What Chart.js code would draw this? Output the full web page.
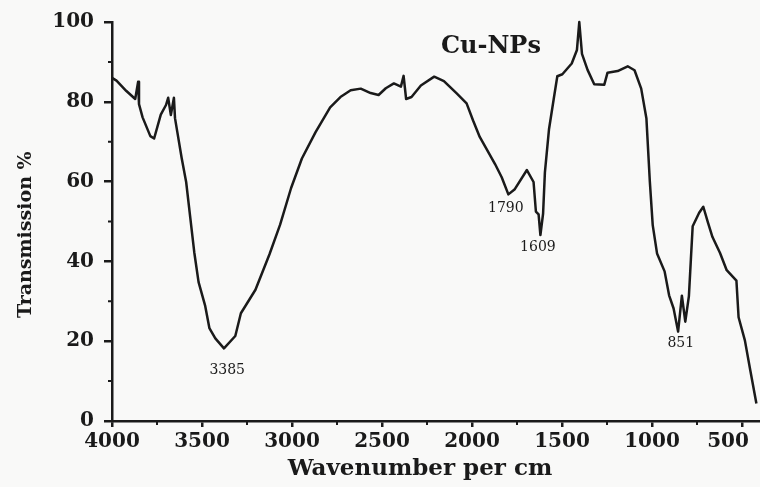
<!DOCTYPE html>
<html>
<head>
<meta charset="utf-8">
<title>Cu-NPs FTIR</title>
<script src="https://cdn.jsdelivr.net/npm/chart.js@4.4.1/dist/chart.umd.min.js"></script>
<style>
  html, body { margin: 0; padding: 0; background: #f9f9f8; overflow: hidden; }
</style>
</head>
<body>
<canvas id="ftirChart" width="760" height="487"></canvas>
<script>
// FTIR spectrum of Cu-NPs
const wavenumbers = [
  4000, 3975, 3920, 3871, 3855, 3850, 3830, 3787, 3766, 3729,
  3700, 3688, 3673, 3656, 3650, 3637, 3613, 3588, 3565, 3543,
  3519, 3483, 3459, 3426, 3378, 3315, 3284, 3203, 3125, 3066,
  3005, 2945, 2869, 2788, 2731, 2674, 2618, 2563, 2519, 2479,
  2434, 2395, 2380, 2366, 2336, 2284, 2210, 2156, 2085, 2030,
  1994, 1957, 1872, 1835, 1798, 1764, 1695, 1658, 1645, 1630,
  1620, 1605, 1595, 1572, 1546, 1526, 1498, 1446, 1417, 1404,
  1389, 1358, 1321, 1265, 1247, 1191, 1135, 1097, 1060, 1031,
  1012, 996, 972, 930, 905, 880, 855, 834, 815, 795,
  784, 774, 738, 715, 689, 664, 622, 585, 531, 519,
  484, 454, 420
];
const transmission = [
  86.0, 85.3, 82.7, 80.7, 85.0, 79.4, 76.1, 71.4, 70.8, 76.8,
  79.2, 81.0, 76.7, 81.0, 75.9, 72.4, 65.9, 59.9, 50.9, 42.3,
  34.8, 29.0, 23.3, 20.7, 18.2, 21.3, 27.0, 32.9, 41.8, 49.2,
  58.4, 65.8, 72.4, 78.6, 81.2, 82.9, 83.3, 82.2, 81.7, 83.4,
  84.6, 83.8, 86.5, 80.7, 81.2, 84.1, 86.3, 85.2, 82.1, 79.6,
  75.3, 71.2, 64.4, 61.1, 56.8, 58.0, 62.9, 59.9, 52.5, 51.8,
  46.6, 52.0, 62.3, 73.2, 80.7, 86.4, 86.9, 89.6, 93.0, 100.0,
  92.0, 88.0, 84.4, 84.3, 87.3, 87.7, 88.9, 87.9, 83.3, 75.8,
  60.0, 49.1, 42.0, 37.5, 31.5, 28.2, 22.4, 31.4, 24.9, 31.3,
  40.5, 48.8, 52.2, 53.7, 49.7, 46.1, 42.1, 37.8, 35.2, 26.0,
  20.2, 12.7, 4.4
];
const xTicks = [4000, 3500, 3000, 2500, 2000, 1500, 1000, 500];
const yTicks = [0, 20, 40, 60, 80, 100];

// peak annotations (label, wavenumber, transmission where the text sits)
const peakLabels = ["3385", "1790", "1609", "851"];
const peakLabelX = [3360, 1812, 1634, 840];
const peakLabelY = [12.8, 53.4, 43.4, 19.5];

const ink = "#1a1a1a";
const serif = "'DejaVu Serif', 'Liberation Serif', serif";

// short unlabeled ticks half way between the labelled ones
const minorTicks = {
  id: "minorTicks",
  afterDraw(chart) {
    const { ctx, scales: { x, y } } = chart;
    ctx.save();
    ctx.strokeStyle = ink;
    ctx.lineWidth = 2;
    ctx.beginPath();
    for (let i = 0; i < xTicks.length - 1; i++) {
      const px = x.getPixelForValue((xTicks[i] + xTicks[i + 1]) / 2);
      ctx.moveTo(px, y.bottom);
      ctx.lineTo(px, y.bottom + 4);
    }
    for (let i = 0; i < yTicks.length - 1; i++) {
      const py = y.getPixelForValue((yTicks[i] + yTicks[i + 1]) / 2);
      ctx.moveTo(x.left, py);
      ctx.lineTo(x.left - 4, py);
    }
    ctx.stroke();
    ctx.restore();
  }
};

const peakText = {
  id: "peakText",
  afterDatasetsDraw(chart) {
    const { ctx, scales: { x, y } } = chart;
    ctx.save();
    ctx.fillStyle = ink;
    ctx.textAlign = "center";
    ctx.textBaseline = "middle";
    ctx.font = "14px " + serif;
    peakLabels.forEach((t, i) => {
      ctx.fillText(t, x.getPixelForValue(peakLabelX[i]), y.getPixelForValue(peakLabelY[i]));
    });
    // sample name inside the plot
    ctx.font = "bold 24px " + serif;
    ctx.fillText(chart.data.datasets[0].label, x.getPixelForValue(1895), y.getPixelForValue(93.9));
    ctx.restore();
  }
};

const ctx = document.getElementById("ftirChart").getContext("2d");
new Chart(ctx, {
  type: "line",
  data: {
    datasets: [{
      label: "Cu-NPs",
      data: wavenumbers.map((w, i) => ({ x: w, y: transmission[i] })),
      borderColor: ink,
      borderWidth: 2.5,
      borderJoinStyle: "round",
      pointRadius: 0,
      tension: 0,
      clip: false
    }]
  },
  options: {
    responsive: false,
    animation: false,
    layout: { padding: { top: 22, right: 0, bottom: 0, left: 0 } },
    plugins: {
      legend: { display: false },
      tooltip: { enabled: false }
    },
    scales: {
      x: {
        type: "linear",
        reverse: true,
        min: 400,
        max: 4000,
        afterBuildTicks: s => { s.ticks = xTicks.map(v => ({ value: v })); },
        // plot runs right to the edge of the picture, like the cropped scan
        afterFit: s => { s.height = 66; s.paddingLeft = 0; s.paddingRight = 0; },
        grid: { drawOnChartArea: false, tickLength: 6, color: ink, lineWidth: 2.5 },
        border: { color: ink, width: 2.5 },
        ticks: {
          color: ink,
          padding: 3,
          maxRotation: 0,
          autoSkip: false,
          font: { family: serif, weight: "bold", size: 20 },
          // last label sits a bit left of its tick in the source
          callback: v => (v === 500 ? "500    " : String(v))
        },
        title: {
          display: true,
          text: "Wavenumber per cm    ",
          color: ink,
          font: { family: serif, weight: "bold", size: 23 },
          padding: { top: 0, bottom: 4 }
        }
      },
      y: {
        min: 0,
        max: 100,
        afterBuildTicks: s => { s.ticks = yTicks.map(v => ({ value: v })); },
        afterFit: s => { s.width = 112; },
        grid: { drawOnChartArea: false, tickLength: 8, color: ink, lineWidth: 2.5 },
        border: { color: ink, width: 2.5 },
        ticks: {
          color: ink,
          padding: 10,
          font: { family: serif, weight: "bold", size: 20 }
        },
        title: {
          display: true,
          text: "Transmission %    ",
          color: ink,
          font: { family: serif, weight: "bold", size: 19 },
          padding: { top: 15, bottom: 0 }
        }
      }
    }
  },
  plugins: [minorTicks, peakText]
});
</script>
</body>
</html>
